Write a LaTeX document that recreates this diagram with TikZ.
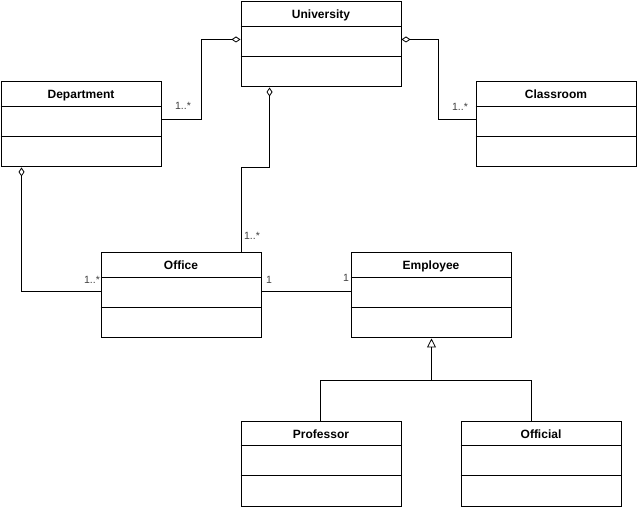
\documentclass[tikz,border=0pt]{standalone}
\usepackage{fontspec}
\setmainfont{Liberation Sans}
\usetikzlibrary{arrows.meta,calc}
\tikzset{
  cls/.style={draw, line width=1pt, anchor=north west, minimum width=160pt, minimum height=85pt, inner sep=0pt},
  ctitle/.style={font=\bfseries\fontsize{12pt}{14pt}\selectfont, inner sep=0pt, anchor=base},
  mult/.style={font=\fontsize{10.5pt}{12pt}\selectfont, text=black!75, inner sep=0pt, anchor=base},
  conn/.style={line width=1pt},
  agg/.style={conn, -{Diamond[open, length=9pt, width=6pt, line width=0.8pt]}},
  inh/.style={conn, -{Triangle[open, length=9pt, width=9pt, line width=0.8pt]}}
}
\newcommand\umlclass[4]{%
  \node[cls] (#1) at (#2,#3) {};
  \node[ctitle] (#1-t) at ($(#1.north)+(0,17.5)$) {#4};
  \draw[line width=1pt] ($(#1.north west)+(0,25)$) -- ($(#1.north east)+(0,25)$);
  \draw[line width=1pt] ($(#1.north west)+(0,55)$) -- ($(#1.north east)+(0,55)$);
}
\begin{document}
\begin{tikzpicture}[x=1pt, y=-1pt]
\useasboundingbox (0,0) rectangle (637,510);
\umlclass{univ}{240.5}{1.5}{University}
\umlclass{dept}{0.5}{81.5}{Department}
\umlclass{room}{475.5}{81.5}{Classroom}
\umlclass{office}{100.5}{252.5}{Office}
\umlclass{emp}{350.5}{252.5}{Employee}
\umlclass{prof}{240.5}{420.5}{Professor}
\umlclass{offl}{460.5}{420.5}{Official}
% Department -- University
\coordinate (d1) at ($(dept.north east)+(0,38)$);
\coordinate (u1) at ($(univ.north west)+(0,38)$);
\draw[agg] (d1) -- ++(40,0) |- (u1);
\node[mult] (m1) at (183,110) {1..*};
% Classroom -- University
\coordinate (c1) at ($(room.north west)+(0,38)$);
\coordinate (u2) at ($(univ.north east)+(0,38)$);
\draw[agg] (c1) -- ++(-37,0) |- (u2);
\node[mult] (m2) at (460,111) {1..*};
% Office -- University
\coordinate (o1) at ($(office.north east)+(-20,0)$);
\coordinate (u3) at ($(univ.south west)+(29,0)$);
\draw[agg] (o1) -- ++(0,-85) -| (u3);
\node[mult] (m3) at (252,240) {1..*};
% Office -- Department
\coordinate (o2) at ($(office.north west)+(0,39)$);
\coordinate (d2) at ($(dept.south west)+(21,0)$);
\draw[agg] (o2) -| (d2);
\node[mult] (m4) at (92,284) {1..*};
% Office -- Employee
\coordinate (o3) at ($(office.north east)+(0,39)$);
\coordinate (e1) at ($(emp.north west)+(0,39)$);
\draw[conn] (o3) -- (e1);
\node[mult] (m5) at (269,284) {1};
\node[mult] (m6) at (346,282) {1};
% Inheritance
\coordinate (e2) at ($(emp.south west)+(81,0)$);
\coordinate (p1) at ($(prof.north west)+(80,0)$);
\coordinate (f1) at ($(offl.north west)+(71,0)$);
\coordinate (j) at (431.5,380.5);
\draw[conn] (p1) |- (j) -| (f1);
\draw[inh] (j) -- (e2);
\end{tikzpicture}
\end{document}
